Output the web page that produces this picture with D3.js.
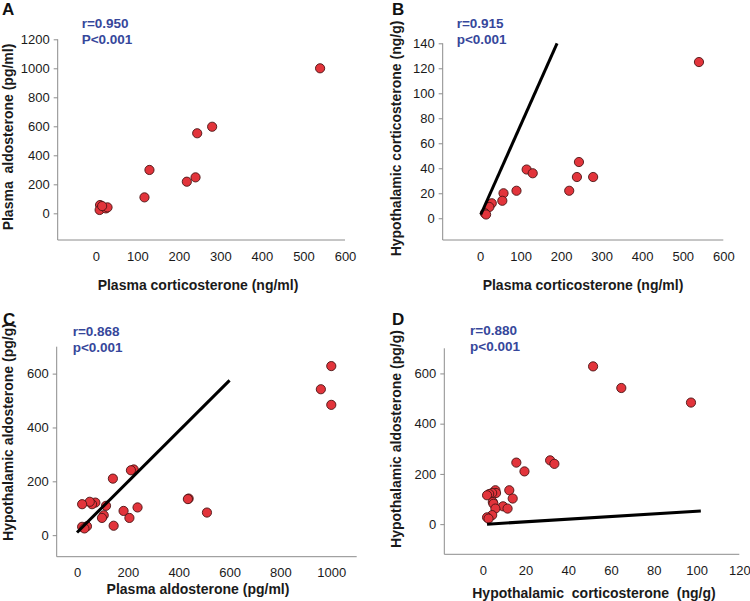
<!DOCTYPE html>
<html><head><meta charset="utf-8">
<script src="https://cdn.jsdelivr.net/npm/d3@7"></script>
<style>
body{margin:0;background:#fff;}
svg{font-family:"Liberation Sans",Arial,Helvetica,sans-serif;}
</style></head>
<body>
<svg id="chart" width="750" height="601"></svg>
<script>
// ---------- DATA ----------
// Panel A: plasma corticosterone (ng/ml) vs plasma aldosterone (pg/ml)
const aX = [540, 280, 244, 240, 219, 129, 117, 10, 9, 24, 28, 15];
const aY = [1000, 597, 552, 248, 218, 299, 110, 57, 23, 34, 41, 50];
// Panel B: plasma corticosterone (ng/ml) vs hypothalamic corticosterone (ng/g)
const bX = [540, 244, 239, 279, 220, 115, 130, 90, 58, 55, 29, 23, 12, 15];
const bY = [125, 45, 33, 33, 22, 39, 36, 22, 20, 14, 12, 9, 4, 3];
const bLine = [[2, 3], [190, 140]];
// Panel C: plasma aldosterone (pg/ml) vs hypothalamic aldosterone (pg/g)
const cX = [1000, 959, 1000, 439, 436, 511, 223, 212, 141, 238, 183, 206, 144, 114, 105, 98, 72, 59, 50, 20, 20, 39, 29];
const cY = [628, 542, 484, 136, 134, 84, 244, 241, 210, 103, 90, 64, 35, 109, 74, 64, 121, 115, 124, 115, 31, 33, 25];
const cLine = [[0, 10], [600, 575]];
// Panel D: hypothalamic corticosterone (ng/g) vs hypothalamic aldosterone (pg/g)
const dX = [51.6, 64.8, 97.4, 15.7, 19.5, 31.5, 33.5, 12.4, 14, 9.5, 11.6, 5.9, 6.2, 4.4, 3, 2, 4.7, 5, 5.9, 4.4, 2, 2.7];
const dY = [628, 542, 484, 245, 210, 254, 240, 135, 102, 71, 62, 135, 124, 124, 120, 115, 88, 81, 62, 36, 27, 22];
const dLine = [[2, 0], [102, 52]];

// tick values
const aXTicks = [0, 100, 200, 300, 400, 500, 600];
const aYTicks = [0, 200, 400, 600, 800, 1000, 1200];
const bXTicks = [0, 100, 200, 300, 400, 500, 600];
const bYTicks = [0, 20, 40, 60, 80, 100, 120, 140];
const cXTicks = [0, 200, 400, 600, 800, 1000];
const cYTicks = [0, 200, 400, 600];
const dXTicks = [0, 20, 40, 60, 80, 100, 120];
const dYTicks = [0, 200, 400, 600];

// labels
const panelLetters = ["A", "B", "C", "D"];
const rTexts = [["r=0.950", "P<0.001"], ["r=0.915", "p<0.001"], ["r=0.868", "p<0.001"], ["r=0.880", "p<0.001"]];
const xTitles = ["Plasma corticosterone (ng/ml)", "Plasma corticosterone (ng/ml)", "Plasma aldosterone (pg/ml)", "Hypothalamic  corticosterone  (ng/g)"];
const yTitles = ["Plasma  aldosterone (pg/ml)", "Hypothalamic corticosterone (ng/g)", "Hypothalamic aldosterone (pg/g)", "Hypothalamic aldosterone (pg/g)"];

// ---------- LAYOUT ----------
const panels = [
  {xs: aX, ys: aY, line: null, xd: [-92, 600], yd: [-184, 1200], xr: [57.7, 345], yr: [240, 39.3], xt: aXTicks, yt: aYTicks,
   letter: [2, 15], r: [81.7, 28.3, 44.3], xTitle: [198, 290], yTitle: [13, 137]},
  {xs: bX, ys: bY, line: bLine, xd: [-92, 600], yd: [-17.4, 140], xr: [442.7, 723.3], yr: [240, 43.3], xt: bXTicks, yt: bYTicks,
   letter: [392, 15], r: [456.7, 28.3, 43.5], xTitle: [583, 290], yTitle: [401, 138.5]},
  {xs: cX, ys: cY, line: cLine, xd: [-80, 1100], yd: [-80, 700], xr: [56.7, 356.7], yr: [556.7, 346.7], xt: cXTicks, yt: cYTicks,
   letter: [3, 325], r: [72.7, 335.5, 351.5], xTitle: [198, 593.5], yTitle: [13, 432]},
  {xs: dX, ys: dY, line: dLine, xd: [-18, 120], yd: [-120, 700], xr: [444.3, 739.3], yr: [554.3, 348.3], xt: dXTicks, yt: dYTicks,
   letter: [392, 325], r: [470, 335, 351], xTitle: [594, 598], yTitle: [401, 439]}
];

const svg = d3.select("#chart");
const axisColor = "#8c8c8c";
const blue = "#36479b";
const fmt = d3.format("d");

panels.forEach((p, i) => {
  const g = svg.append("g");
  const x = d3.scaleLinear().domain(p.xd).range(p.xr);
  const y = d3.scaleLinear().domain(p.yd).range(p.yr);

  const xa = g.append("g").attr("transform", `translate(0,${p.yr[0]})`)
    .call(d3.axisBottom(x).tickValues(p.xt).tickFormat(fmt).tickSize(0).tickPadding(11.5).tickSizeOuter(0));
  const ya = g.append("g").attr("transform", `translate(${p.xr[0]},0)`)
    .call(d3.axisLeft(y).tickValues(p.yt).tickFormat(fmt).tickSize(4).tickPadding(4).tickSizeOuter(0));
  [xa, ya].forEach(a => {
    a.select(".domain").attr("stroke", axisColor).attr("stroke-width", 1);
    a.selectAll(".tick line").attr("stroke", axisColor);
    a.selectAll(".tick text").attr("fill", "#1a1a1a").style("font-size", "13px");
  });
  xa.select(".domain").attr("d", `M${p.xr[0]},0H${p.xr[1]}`);
  ya.select(".domain").attr("d", `M0,${p.yr[0]}V${p.yr[1]}`);

  const pts = p.xs.map((v, k) => [v, p.ys[k]]);
  g.append("g").selectAll("circle").data(pts).join("circle")
    .attr("cx", d => x(d[0])).attr("cy", d => y(d[1])).attr("r", 4.6)
    .attr("fill", "#e2343b").attr("stroke", "#4a1414").attr("stroke-width", 0.9);

  if (p.line) {
    g.append("path").datum(p.line)
      .attr("d", d3.line().x(d => x(d[0])).y(d => y(d[1])))
      .attr("stroke", "#000").attr("stroke-width", 3).attr("fill", "none");
  }

  g.append("text").attr("x", p.letter[0]).attr("y", p.letter[1]).text(panelLetters[i])
    .style("font-size", "17px").style("font-weight", "bold").attr("fill", "#111");
  g.append("text").attr("x", p.r[0]).attr("y", p.r[1]).text(rTexts[i][0])
    .style("font-size", "13.5px").style("font-weight", "bold").attr("fill", blue);
  g.append("text").attr("x", p.r[0]).attr("y", p.r[2]).text(rTexts[i][1])
    .style("font-size", "13.5px").style("font-weight", "bold").attr("fill", blue);
  g.append("text").attr("x", p.xTitle[0]).attr("y", p.xTitle[1]).attr("text-anchor", "middle")
    .style("white-space", "pre").style("font-size", "14px").style("font-weight", "bold").attr("fill", "#1a1a1a")
    .text(xTitles[i]);
  g.append("text").attr("transform", `translate(${p.yTitle[0]},${p.yTitle[1]}) rotate(-90)`)
    .attr("text-anchor", "middle")
    .style("white-space", "pre").style("font-size", "14px").style("font-weight", "bold").attr("fill", "#1a1a1a")
    .text(yTitles[i]);
});
</script>
</body></html>
